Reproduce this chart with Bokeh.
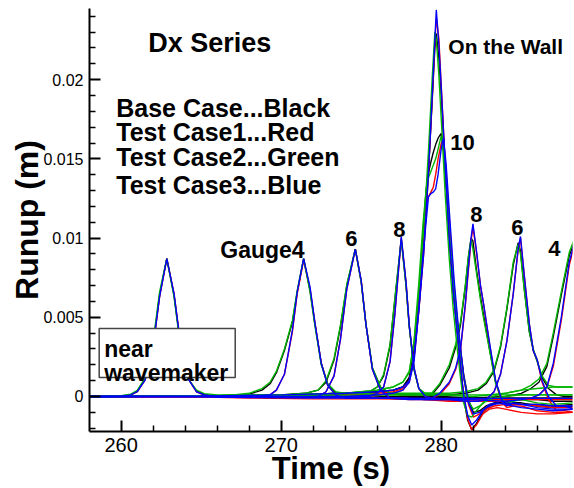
from bokeh.plotting import figure
from bokeh.models import Range1d, FixedTicker, Label, BoxAnnotation, PrintfTickFormatter
from bokeh.embed import file_html
from bokeh.resources import INLINE

FONT = "Liberation Sans"

# ---------------- data ----------------
# near wavemaker gauge
t_near = [258.0, 259.0, 260.0, 260.6, 261.0, 261.5, 262.0, 262.4, 262.85, 263.3, 263.7,
          264.2, 264.7, 265.2, 266.0, 268.0, 272.0, 276.0, 280.0, 284.0, 288.3]
near_black = [0.0, 0.0, 0.00003, 0.00012, 0.00033, 0.0011, 0.0033, 0.0064, 0.0087, 0.0064, 0.0033,
              0.0011, 0.00035, 0.00012, 0.00003, 0.0, -0.00005, -0.00005, -0.00008, -0.0001, -0.0001]
near_red = [-0.00002, -0.00002, 0.0, 0.0001, 0.0003, 0.00105, 0.0032, 0.0063, 0.0087, 0.0065, 0.0034,
            0.0011, 0.0003, 0.00008, -0.00005, -0.0001, -0.00015, -0.00015, -0.0002, -0.0002, -0.0002]
near_green = [0.0, 0.00001, 0.00005, 0.00015, 0.00038, 0.00118, 0.0035, 0.0066, 0.0087, 0.0063, 0.0032,
              0.0011, 0.0004, 0.00018, 0.0001, 0.00008, 0.00008, 0.0001, 0.0001, 0.0001, 0.0001]
near_blue = [-0.00001, -0.00001, 0.00001, 0.0001, 0.0003, 0.00105, 0.0032, 0.0063, 0.0087, 0.0065, 0.0034,
             0.0011, 0.0003, 0.0001, -0.00003, -0.00006, -0.0001, -0.0001, -0.00012, -0.00012, -0.00012]

# Gauge 4
t_g4 = [258.0, 264.0, 267.0, 268.0, 268.8, 269.3, 269.7, 270.2, 270.7, 271.0, 271.4, 271.8, 272.1,
        272.5, 272.9, 273.4, 274.0, 275.0, 276.5, 278.0, 280.0, 282.0, 284.0, 285.0, 285.6, 286.1,
        286.6, 287.0, 287.5, 288.0, 288.3]
g4_black = [0.0, 0.0, 0.00005, 0.00015, 0.0004, 0.0008, 0.0015, 0.0029, 0.0047, 0.0066, 0.0087, 0.0067, 0.0046,
            0.0021, 0.0008, 0.0002, 0.0001, 0.0001, 0.0, 0.0, 0.0, -0.0001, 0.0, 0.0002, 0.0005, 0.0009,
            0.0019, 0.0038, 0.0064, 0.0089, 0.0097]
g4_red = [0.0, -0.00002, -0.00003, 0.0, 0.00005, 0.0001, 0.0004, 0.0014, 0.0041, 0.0065, 0.0086, 0.0068, 0.0047,
          0.0021, 0.0007, 0.0001, -0.0001, -0.0001, -0.0001, -0.0002, -0.0002, -0.0003, -0.0003, -0.0002, -0.0001, 0.0001,
          0.0006, 0.0019, 0.0048, 0.0083, 0.0095]
g4_green = [0.0, 0.00003, 0.0001, 0.0002, 0.0005, 0.0009, 0.0016, 0.0030, 0.0048, 0.0067, 0.0087, 0.0066, 0.0045,
            0.0020, 0.0008, 0.0003, 0.0002, 0.0002, 0.0001, 0.0001, 0.0001, 0.0, 0.0002, 0.0004, 0.0007, 0.0011,
            0.0021, 0.0040, 0.0066, 0.0091, 0.0099]
g4_blue = [0.0, -0.00001, -0.00002, 0.0, 0.00005, 0.0001, 0.0004, 0.0014, 0.0042, 0.0066, 0.0087, 0.0069, 0.0047,
           0.0021, 0.0007, 0.0001, -0.0001, -0.0001, -0.0001, -0.0002, -0.0002, -0.0002, -0.0003, -0.0002, -0.0001, 0.0001,
           0.0006, 0.0021, 0.0050, 0.0085, 0.0096]

# Gauge 6
t_g6 = [258.0, 265.0, 270.0, 271.5, 272.3, 272.8, 273.3, 273.7, 274.1, 274.63, 275.0, 275.3, 275.7, 276.2,
        276.8, 277.5, 279.0, 280.5, 281.5, 282.3, 282.8, 283.3, 283.7, 284.1, 284.5, 284.8, 284.95, 285.2,
        285.5, 285.75, 286.0, 286.3, 286.7, 287.2, 287.7, 288.3]
g6_black = [0.0, 0.00003, 0.0001, 0.0002, 0.0004, 0.0009, 0.0023, 0.0044, 0.0070, 0.0093, 0.0072, 0.0045, 0.0018, 0.0006,
            0.0002, 0.0001, 0.0001, 0.0001, 0.0002, 0.0004, 0.0008, 0.0016, 0.0031, 0.0055, 0.0083, 0.0097, 0.0092, 0.0067,
            0.0041, 0.0029, 0.0022, 0.0012, 0.0005, 0.0001, 0.0000, 0.0000]
g6_red = [0.0, 0.0, -0.00003, -0.00005, 0.0, 0.0003, 0.0013, 0.0036, 0.0068, 0.0093, 0.0073, 0.0045, 0.0017, 0.0004,
          -0.0001, -0.0001, -0.0002, -0.0003, -0.0003, -0.0003, -0.0002, 0.0003, 0.0014, 0.0035, 0.0065, 0.0092, 0.0100, 0.0075,
          0.0046, 0.0029, 0.0023, 0.0009, -0.0002, -0.0009, -0.0009, -0.0010]
g6_green = [0.0, 0.00003, 0.0001, 0.0002, 0.0004, 0.0010, 0.0024, 0.0045, 0.0071, 0.0093, 0.0072, 0.0045, 0.0018, 0.0006,
            0.0002, 0.0002, 0.0002, 0.0002, 0.0003, 0.0005, 0.0009, 0.0017, 0.0032, 0.0056, 0.0085, 0.0096, 0.0090, 0.0066,
            0.0041, 0.0030, 0.0022, 0.0013, 0.0007, 0.0006, 0.0006, 0.0006]
g6_blue = [0.0, 0.0, -0.00003, -0.00005, 0.0, 0.0003, 0.0013, 0.0036, 0.0068, 0.0093, 0.0073, 0.0045, 0.0017, 0.0004,
           -0.0001, -0.0001, -0.0002, -0.0002, -0.0003, -0.0003, -0.0002, 0.0003, 0.0014, 0.0035, 0.0065, 0.0093, 0.0101, 0.0075,
           0.0046, 0.0029, 0.0023, 0.0010, 0.0000, -0.0006, -0.0006, -0.0008]

# Gauge 8
t_g8 = [258.0, 265.0, 270.0, 274.0, 275.5, 276.0, 276.4, 276.8, 277.1, 277.5, 277.8, 278.0, 278.3, 278.6,
        279.0, 279.4, 279.9, 280.5, 280.9, 281.2, 281.5, 281.7, 281.86, 281.98, 282.2, 282.45, 282.65, 283.0,
        283.4, 283.8, 284.1, 284.5, 285.0, 286.0, 287.0, 288.3]
g8_black = [0.0, 0.00003, 0.0001, 0.0002, 0.0003, 0.0006, 0.0013, 0.0032, 0.0061, 0.0099, 0.0070, 0.0044, 0.0017, 0.0005,
            0.0001, 0.0001, 0.0007, 0.0018, 0.0031, 0.0045, 0.0069, 0.0088, 0.0100, 0.0098, 0.0080, 0.0063, 0.0051, 0.0031,
            0.0009, -0.0002, -0.0005, -0.0004, -0.0004, -0.0006, -0.0007, -0.0006]
g8_red = [0.0, 0.0, -0.00003, -0.00005, 0.0, 0.0002, 0.0006, 0.0022, 0.0052, 0.0100, 0.0072, 0.0045, 0.0018, 0.0005,
          0.0, -0.0001, 0.0001, 0.0008, 0.0017, 0.0029, 0.0057, 0.0080, 0.0098, 0.0107, 0.0091, 0.0070, 0.0058, 0.0034,
          0.0009, -0.0004, -0.0007, -0.0006, -0.0006, -0.0009, -0.0010, -0.0010]
g8_green = [0.0, 0.00003, 0.0001, 0.0002, 0.0003, 0.0006, 0.0014, 0.0033, 0.0062, 0.0099, 0.0070, 0.0044, 0.0017, 0.0005,
            0.0002, 0.0002, 0.0008, 0.0020, 0.0033, 0.0047, 0.0070, 0.0089, 0.0099, 0.0093, 0.0078, 0.0061, 0.0049, 0.0030,
            0.0008, -0.0002, -0.0004, -0.0003, -0.0002, -0.0004, -0.0005, -0.0004]
g8_blue = [0.0, 0.0, -0.00003, -0.00005, 0.0, 0.0002, 0.0006, 0.0022, 0.0052, 0.0101, 0.0072, 0.0045, 0.0018, 0.0005,
           0.0, -0.0001, 0.0002, 0.0009, 0.0018, 0.0030, 0.0058, 0.0082, 0.0100, 0.0109, 0.0092, 0.0070, 0.0058, 0.0035,
           0.0010, -0.0003, -0.0006, -0.0004, -0.0005, -0.0007, -0.0008, -0.0008]

# Gauge 10
t_g10 = [258.0, 265.0, 270.0, 274.0, 276.0, 277.0, 277.6, 278.0, 278.3, 278.6, 278.85, 279.05, 279.2, 279.35,
         279.5, 279.65, 279.8, 279.98, 280.08, 280.14, 280.3, 280.55, 280.8, 281.1, 281.4, 281.7, 282.0, 282.4,
         282.8, 283.3, 284.0, 285.0, 286.0, 287.0, 288.3]
g10_black = [0.0, 0.00003, 0.0001, 0.0002, 0.0003, 0.0004, 0.0006, 0.0012, 0.0030, 0.0065, 0.0100, 0.0130, 0.0141, 0.0148,
             0.0154, 0.0159, 0.0163, 0.0166, 0.0161, 0.0156, 0.0136, 0.0100, 0.0068, 0.0038, 0.0014, -0.0002, -0.0010, -0.0009,
             -0.0006, -0.0004, -0.0003, -0.0002, -0.0002, -0.0003, -0.0003]
g10_red = [0.0, 0.0, 0.0, 0.0, 0.0001, 0.0002, 0.0004, 0.0010, 0.0025, 0.0058, 0.0095, 0.0120, 0.0126, 0.0129,
           0.0132, 0.0140, 0.0150, 0.0159, 0.0163, 0.0161, 0.0142, 0.0105, 0.0070, 0.0038, 0.0012, -0.0005, -0.0013, -0.0011,
           -0.0008, -0.0006, -0.0005, -0.0005, -0.0006, -0.0007, -0.0007]
g10_green = [0.0, 0.00003, 0.0001, 0.0002, 0.0004, 0.0006, 0.0009, 0.0015, 0.0035, 0.0072, 0.0108, 0.0130, 0.0138, 0.0142,
             0.0146, 0.0150, 0.0156, 0.0164, 0.0160, 0.0155, 0.0135, 0.0098, 0.0066, 0.0036, 0.0012, -0.0003, -0.0008, -0.0006,
             -0.0003, -0.0001, 0.0, 0.0001, 0.0001, 0.0001, 0.0001]
g10_blue = [0.0, 0.0, 0.0, 0.0, 0.0001, 0.0002, 0.0004, 0.0009, 0.0022, 0.0055, 0.0088, 0.0110, 0.0126, 0.0128,
            0.0129, 0.0131, 0.0140, 0.0155, 0.0161, 0.0163, 0.0147, 0.0110, 0.0074, 0.0040, 0.0013, -0.0004, -0.0011, -0.0010,
            -0.0007, -0.0005, -0.0004, -0.0005, -0.0005, -0.0006, -0.0006]

# On the wall
t_wall = [258.0, 265.0, 270.0, 274.0, 276.0, 277.0, 277.6, 278.0, 278.3, 278.6, 278.9, 279.2, 279.45, 279.6,
          279.69, 279.85, 280.0, 280.25, 280.5, 280.75, 281.0, 281.2, 281.4, 281.65, 281.9, 282.2, 282.6, 283.0,
          283.5, 284.0, 285.0, 286.0, 287.0, 288.3]
wall_black = [0.0, 0.00003, 0.0001, 0.0002, 0.0003, 0.0004, 0.0006, 0.0011, 0.0027, 0.0058, 0.0095, 0.0142, 0.0190, 0.0220,
              0.0229, 0.0214, 0.0190, 0.0143, 0.0100, 0.0066, 0.0040, 0.0019, -0.0001, -0.0015, -0.0021, -0.0017, -0.0010, -0.0006,
              -0.0004, -0.0004, -0.0005, -0.0005, -0.0006, -0.0005]
wall_red = [0.0, 0.0, 0.0, 0.0001, 0.0002, 0.0003, 0.0005, 0.0009, 0.0024, 0.0054, 0.0090, 0.0141, 0.0192, 0.0224,
            0.0239, 0.0226, 0.0196, 0.0146, 0.0101, 0.0067, 0.0041, 0.0020, 0.0000, -0.0014, -0.0021, -0.0018, -0.0011, -0.0008,
            -0.0007, -0.0008, -0.0010, -0.0011, -0.0011, -0.0010]
wall_green = [0.0, 0.00003, 0.0001, 0.0002, 0.0004, 0.0006, 0.0009, 0.0016, 0.0034, 0.0066, 0.0105, 0.0155, 0.0204, 0.0230,
              0.0225, 0.0203, 0.0175, 0.0127, 0.0087, 0.0055, 0.0030, 0.0012, -0.0004, -0.0012, -0.0013, -0.0009, -0.0004, -0.0001,
              0.0001, 0.0002, 0.0004, 0.0005, 0.0006, 0.0006]
wall_blue = [0.0, 0.00002, 0.0001, 0.0002, 0.0003, 0.0004, 0.0006, 0.0010, 0.0025, 0.0055, 0.0090, 0.0141, 0.0193, 0.0225,
             0.0244, 0.0222, 0.0195, 0.0145, 0.0100, 0.0066, 0.0040, 0.0020, 0.0001, -0.0012, -0.0018, -0.0015, -0.0009, -0.0005,
             -0.0004, -0.0005, -0.0007, -0.0008, -0.0009, -0.0008]

x_major = [260, 270, 280]
x_minor = [258, 262, 264, 266, 268, 272, 274, 276, 278, 282, 284, 286, 288]
y_major = [0.0, 0.005, 0.01, 0.015, 0.02]
y_minor = [-0.002, -0.001, 0.001, 0.002, 0.003, 0.004, 0.006, 0.007, 0.008, 0.009, 0.011, 0.012,
           0.013, 0.014, 0.016, 0.017, 0.018, 0.019, 0.021, 0.022, 0.023, 0.024]

case_colors = ["black", "#ff0000", "#00b400", "#0000ff"]
series = [
    (t_near, [near_black, near_red, near_green, near_blue]),
    (t_g4, [g4_black, g4_red, g4_green, g4_blue]),
    (t_g6, [g6_black, g6_red, g6_green, g6_blue]),
    (t_g8, [g8_black, g8_red, g8_green, g8_blue]),
    (t_g10, [g10_black, g10_red, g10_green, g10_blue]),
    (t_wall, [wall_black, wall_red, wall_green, wall_blue]),
]

# ---------------- figure ----------------
p = figure(width=574, height=488, output_backend="svg", toolbar_location=None,
           x_range=Range1d(258.02, 288.2), y_range=Range1d(-0.00221, 0.02449),
           min_border_left=89, min_border_right=2, min_border_top=8, min_border_bottom=57)
p.outline_line_color = None
p.grid.visible = False
p.background_fill_color = "white"
p.border_fill_color = "white"

for ci, col in enumerate(case_colors):
    for t, vals in series:
        p.line(t, vals[ci], line_color=col, line_width=1.4)

# axes
p.xaxis.ticker = FixedTicker(ticks=x_major, minor_ticks=x_minor)
p.yaxis.ticker = FixedTicker(ticks=y_major, minor_ticks=y_minor)
p.yaxis.formatter = PrintfTickFormatter(format="%g")
for ax in (p.xaxis[0], p.yaxis[0]):
    ax.axis_line_width = 2
    ax.axis_line_color = "black"
    ax.major_tick_in = 11
    ax.major_tick_out = 0
    ax.minor_tick_in = 6
    ax.minor_tick_out = 0
    ax.major_tick_line_width = 2
    ax.minor_tick_line_width = 1.5
    ax.major_tick_line_color = "black"
    ax.minor_tick_line_color = "black"
    ax.major_label_text_font = FONT
    ax.major_label_text_color = "black"
    ax.axis_label_text_font = FONT
    ax.axis_label_text_font_style = "bold"
    ax.axis_label_text_color = "black"

p.xaxis.major_label_text_font_size = "20px"
p.yaxis.major_label_text_font_size = "16px"
p.xaxis.major_label_standoff = 6
p.yaxis.major_label_standoff = 6
p.xaxis.axis_label = "Time (s)"
p.yaxis.axis_label = "Runup (m)"
p.xaxis.axis_label_text_font_size = "31px"
p.yaxis.axis_label_text_font_size = "32px"
p.xaxis.axis_label_standoff = -4
p.yaxis.axis_label_standoff = -5

# near-wavemaker box
p.add_layout(BoxAnnotation(left=258.625, right=267.125, bottom=0.0012, top=0.00429,
                           fill_color="white", fill_alpha=1.0, line_color="#444444",
                           line_width=1.5, line_alpha=1.0))

labels = [
    ("Dx Series", 261.69, 0.02229, "27px"),
    ("Base Case...Black", 259.69, 0.01823, "25px"),
    ("Test Case1...Red", 259.69, 0.01669, "25px"),
    ("Test Case2...Green", 259.69, 0.01509, "25px"),
    ("Test Case3...Blue", 259.69, 0.01338, "25px"),
    ("Gauge4", 266.19, 0.00922, "23px"),
    ("6", 274.0, 0.00997, "22px"),
    ("8", 277.0, 0.01054, "22px"),
    ("10", 280.56, 0.01604, "22px"),
    ("On the Wall", 280.44, 0.0221, "21px"),
    ("8", 281.81, 0.01149, "22px"),
    ("6", 284.38, 0.01067, "22px"),
    ("4", 286.69, 0.00934, "22px"),
    ("near", 258.94, 0.00297, "23px"),
    ("wavemaker", 258.94, 0.00147, "23px"),
]
for txt, x, y, fs in labels:
    p.add_layout(Label(x=x, y=y, text=txt, text_font=FONT, text_font_style="bold",
                       text_font_size=fs, text_color="black", text_baseline="alphabetic",
                       text_align="left"))

open("out.html", "w").write(file_html(p, INLINE))
